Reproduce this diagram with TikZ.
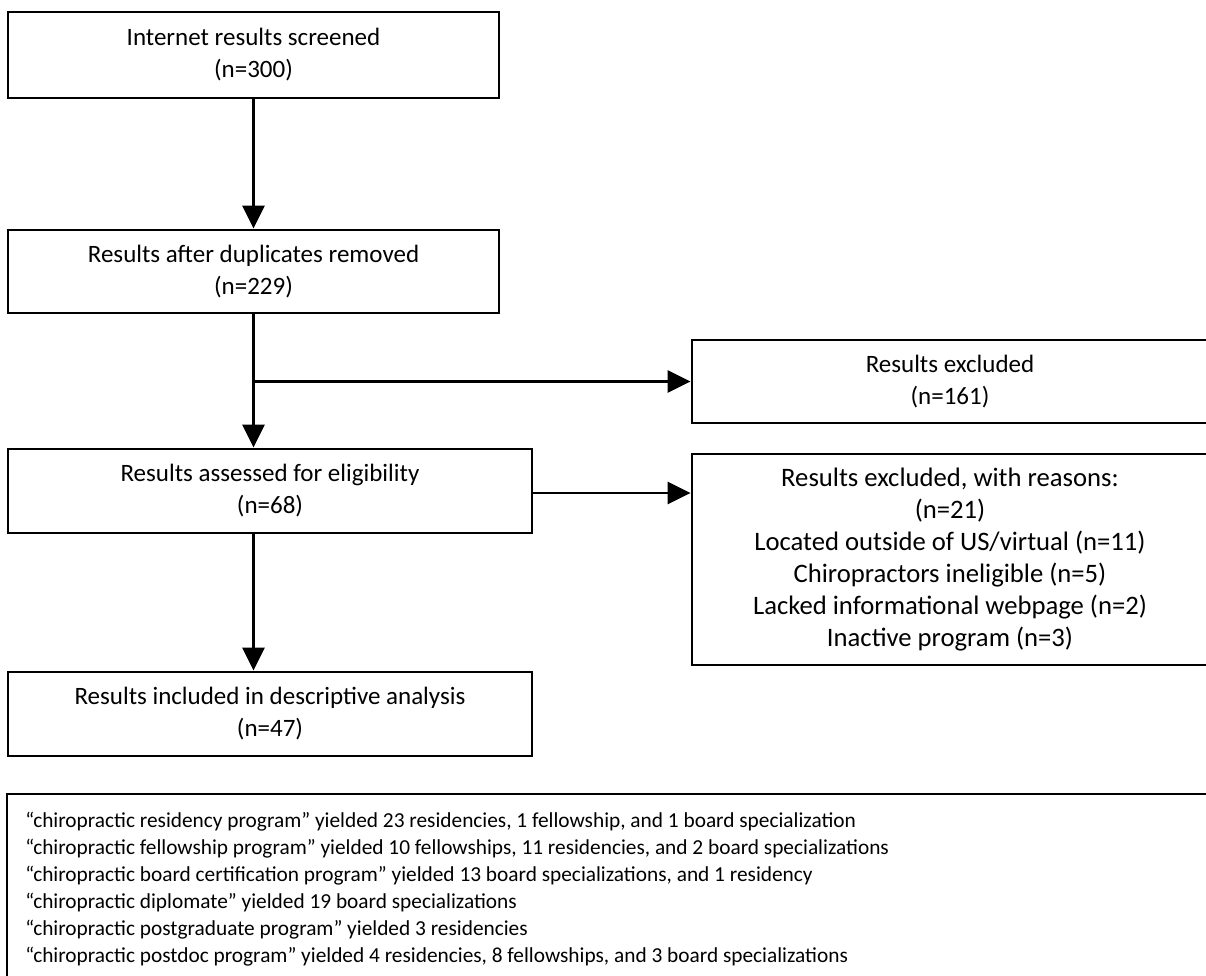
\documentclass[tikz,border=0pt]{standalone}
\usepackage{fontspec}
\setmainfont{Carlito}
\usetikzlibrary{arrows.meta,calc}
\begin{document}
\begin{tikzpicture}[x=0.6pt,y=-0.6pt,
  boxstyle/.style={draw,line width=1.7pt,rectangle,inner sep=0pt,align=center,
    font=\fontsize{15}{19.2}\selectfont},
  arr/.style={line width=1.7pt,-{Triangle[length=13.8pt,width=13.2pt]}},
  ln/.style={line width=1.7pt}]
\useasboundingbox (0,0) rectangle (1206,975);
\node[boxstyle,minimum width=491*0.6pt,minimum height=86*0.6pt] (b1) at (253.5,55)
  {Internet results screened\\(n=300)};
\node[boxstyle,minimum width=491*0.6pt,minimum height=83*0.6pt] (b2) at (253.5,271.5)
  {Results after duplicates removed\\(n=229)};
\node[boxstyle,minimum width=524*0.6pt,minimum height=84*0.6pt] (b3) at (270,491)
  {Results assessed for eligibility\\(n=68)};
\node[boxstyle,minimum width=524*0.6pt,minimum height=84*0.6pt] (b4) at (270,714)
  {Results included in descriptive analysis\\(n=47)};
\node[boxstyle,minimum width=516*0.6pt,minimum height=83*0.6pt] (ex1) at (950,381.5)
  {Results excluded\\(n=161)};
\node[boxstyle,minimum width=516*0.6pt,minimum height=211*0.6pt,
  font=\fontsize{16}{19.2}\selectfont] (ex2) at (950,559.5)
  {Results excluded, with reasons:\\(n=21)\\Located outside of US/virtual (n=11)\\Chiropractors ineligible (n=5)\\Lacked informational webpage (n=2)\\Inactive program (n=3)};
\node[draw,line width=1.7pt,rectangle,inner sep=0pt,minimum width=1204*0.6pt,
  minimum height=188*0.6pt] (nb) at (609,888) {};
\node[anchor=west,align=left,inner sep=0pt,font=\fontsize{12.8}{16.2}\selectfont] (nt) at (25,889)
  {“chiropractic residency program” yielded 23 residencies, 1 fellowship, and 1 board specialization\\
   “chiropractic fellowship program” yielded 10 fellowships, 11 residencies, and 2 board specializations\\
   “chiropractic board certification program” yielded 13 board specializations, and 1 residency\\
   “chiropractic diplomate” yielded 19 board specializations\\
   “chiropractic postgraduate program” yielded 3 residencies\\
   “chiropractic postdoc program” yielded 4 residencies, 8 fellowships, and 3 board specializations};
\draw[arr] (b1.south) -- (b2.north);
\draw[arr] (b2.south) -- (b2.south |- b3.north);
\coordinate (br) at (b2.south |- ex1.west);
\draw[arr] (br) -- (ex1.west);
\draw[arr] ([yshift=-1.2pt]b3.east) -- ([yshift=-1.2pt]b3.east -| ex2.west);
\draw[arr] (b3.south -| b2.south) -- (b4.north -| b2.south);
\end{tikzpicture}
\end{document}
